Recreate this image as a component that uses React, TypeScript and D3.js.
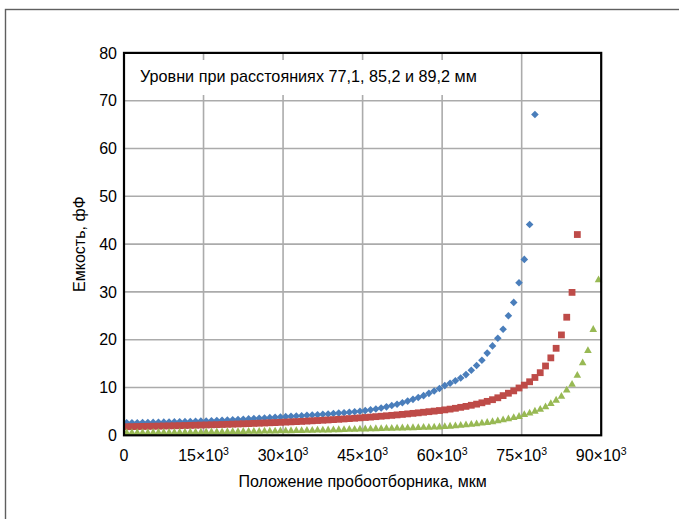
import React from 'react';
import * as d3 from 'd3';

// probe positions: first point at 500 µm, then every 1000 µm
const xStart = 500;
const xStep = 1000;

// 77,1 mm
const blueValues = [
  2.6, 2.62, 2.64, 2.66, 2.68, 2.7, 2.72, 2.75, 2.78, 2.8, 2.83, 2.86, 2.9, 2.93, 2.97,
  3.0, 3.05, 3.1, 3.15, 3.2, 3.25, 3.31, 3.37, 3.43, 3.49, 3.55, 3.62, 3.69, 3.76, 3.83,
  3.9, 3.96, 4.03, 4.1, 4.17, 4.24, 4.31, 4.39, 4.47, 4.55, 4.64, 4.73, 4.83, 4.93,
  5.04, 5.17, 5.32, 5.5, 5.7, 5.95, 6.22, 6.5, 6.82, 7.16, 7.52, 7.9, 8.3, 8.78, 9.28,
  9.8, 10.4, 10.9, 11.4, 12.0, 12.7, 13.6, 14.6, 15.7, 17.2, 18.7, 20.3, 22.2, 25.0,
  27.8, 31.9, 36.8, 44.1, 67.1,
];

// 85,2 mm
const redValues = [
  1.8, 1.82, 1.84, 1.86, 1.88, 1.9, 1.92, 1.95, 1.97, 2.0, 2.02, 2.05, 2.08, 2.11, 2.14,
  2.17, 2.2, 2.23, 2.26, 2.3, 2.33, 2.37, 2.41, 2.45, 2.49, 2.53, 2.57, 2.62, 2.66, 2.71,
  2.76, 2.81, 2.86, 2.91, 2.97, 3.03, 3.09, 3.15, 3.21, 3.28, 3.35, 3.42, 3.49, 3.57, 3.65,
  3.73, 3.81, 3.9, 3.99, 4.08, 4.17, 4.27, 4.37, 4.48, 4.59, 4.7, 4.82, 4.94, 5.06,
  5.18, 5.32, 5.48, 5.65, 5.85, 6.05, 6.28, 6.52, 6.8, 7.1, 7.45, 7.85, 8.3, 8.8, 9.3,
  9.9, 10.5, 11.2, 12.1, 13.1, 14.5, 16.2, 18.2, 21.0, 24.7, 29.9, 42.0,
];

// 89,2 mm
const greenValues = [
  0.6, 0.61, 0.62, 0.63, 0.64, 0.65, 0.66, 0.67, 0.68, 0.69, 0.7, 0.71, 0.72, 0.73, 0.75,
  0.76, 0.77, 0.79, 0.8, 0.81, 0.83, 0.84, 0.86, 0.87, 0.89, 0.9, 0.92, 0.94, 0.96, 0.98,
  1.0, 1.02, 1.04, 1.06, 1.08, 1.1, 1.13, 1.15, 1.18, 1.2, 1.23, 1.26, 1.29, 1.32, 1.35,
  1.38, 1.41, 1.44, 1.47, 1.5, 1.53, 1.56, 1.59, 1.62, 1.65, 1.68, 1.71, 1.74, 1.77,
  1.8, 1.88, 1.96, 2.05, 2.14, 2.24, 2.35, 2.47, 2.6, 2.74, 2.9, 3.08, 3.28, 3.5, 3.75,
  4.0, 4.4, 4.7, 5.1, 5.5, 6.0, 6.7, 7.4, 8.2, 9.5, 10.7, 12.6, 15.2, 17.8, 22.2, 32.6,
];

const xTicks = [0, 15000, 30000, 45000, 60000, 75000, 90000];
const yTicks = [0, 10, 20, 30, 40, 50, 60, 70, 80];

const annotation = 'Уровни при расстояниях 77,1, 85,2 и 89,2 мм';
const xTitle = 'Положение пробоотборника, мкм';
const yTitle = 'Емкость, фФ';

const W = 679;
const H = 519;
const plot = { left: 124, right: 601.2, top: 52.9, bottom: 435.3 };
const font = '"Liberation Sans", Arial, sans-serif';

const x = d3.scaleLinear().domain([0, 90000]).range([plot.left, plot.right]);
const y = d3.scaleLinear().domain([0, 80]).range([plot.bottom, plot.top]);

const diamond = (r: number) => `M0,${-r}L${r},0L0,${r}L${-r},0Z`;
const square = (s: number) => `M${-s / 2},${-s / 2}h${s}v${s}h${-s}Z`;
const triangle = (w: number, h: number) => `M0,${-h * 0.6}L${w / 2},${h * 0.4}L${-w / 2},${h * 0.4}Z`;

const series = [
  { name: 'blue', values: blueValues, color: '#4A7EBB', path: diamond(3.8) },
  { name: 'red', values: redValues, color: '#BE4B48', path: square(6.8) },
  { name: 'green', values: greenValues, color: '#98B954', path: triangle(7.6, 6.8) },
];

const tickLabel = (v: number) => {
  if (v === 0) return <tspan>0</tspan>;
  return (
    <>
      <tspan>{`${v / 1000}×10`}</tspan>
      <tspan dy={-6} fontSize={10.5}>3</tspan>
    </>
  );
};

export default function App() {
  return (
    <svg
      width={W}
      height={H}
      style={{ position: 'absolute', left: 0, top: 0, background: '#fff' }}
      fontFamily={font}
    >
      <rect x={0} y={0} width={W} height={H} fill="#fff" />
      {/* outer chart frame */}
      <rect x={5.5} y={9.5} width={W + 20} height={H + 20} fill="none" stroke="#5f5f5f" strokeWidth={1.4} />

      {/* grid */}
      <g stroke="#ababab" strokeWidth={1.6}>
        {xTicks.slice(1, -1).map(t => (
          <line key={'gx' + t} x1={x(t)} x2={x(t)} y1={plot.top} y2={plot.bottom} />
        ))}
        {yTicks.slice(1, -1).map(t => (
          <line key={'gy' + t} x1={plot.left} x2={plot.right} y1={y(t)} y2={y(t)} />
        ))}
      </g>

      {/* annotation box */}
      <rect x={127} y={60} width={360} height={35} fill="#fff" />
      <text x={140} y={81.5} fontSize={16.2} fill="#000">{annotation}</text>

      {/* points */}
      {series.map(s => (
        <g key={s.name} fill={s.color}>
          {s.values.map((v, i) => (
            <path
              key={i}
              d={s.path}
              transform={`translate(${x(xStart + i * xStep)},${y(v)})`}
            />
          ))}
        </g>
      ))}

      {/* plot border */}
      <rect
        x={plot.left}
        y={plot.top}
        width={plot.right - plot.left}
        height={plot.bottom - plot.top}
        fill="none"
        stroke="#000"
        strokeWidth={2.2}
      />

      {/* y tick labels */}
      {yTicks.map(t => (
        <text key={'ty' + t} x={117} y={y(t)} dy="0.35em" textAnchor="end" fontSize={16} fill="#000">
          {t}
        </text>
      ))}

      {/* x tick labels */}
      {xTicks.map(t => (
        <text key={'tx' + t} x={x(t)} y={461} textAnchor="middle" fontSize={16} fill="#000">
          {tickLabel(t)}
        </text>
      ))}

      <text x={(plot.left + plot.right) / 2} y={487} textAnchor="middle" fontSize={16} fill="#000">
        {xTitle}
      </text>
      <text
        transform={`translate(85,${(plot.top + plot.bottom) / 2}) rotate(-90)`}
        textAnchor="middle"
        fontSize={16}
        fill="#000"
      >
        {yTitle}
      </text>
    </svg>
  );
}
